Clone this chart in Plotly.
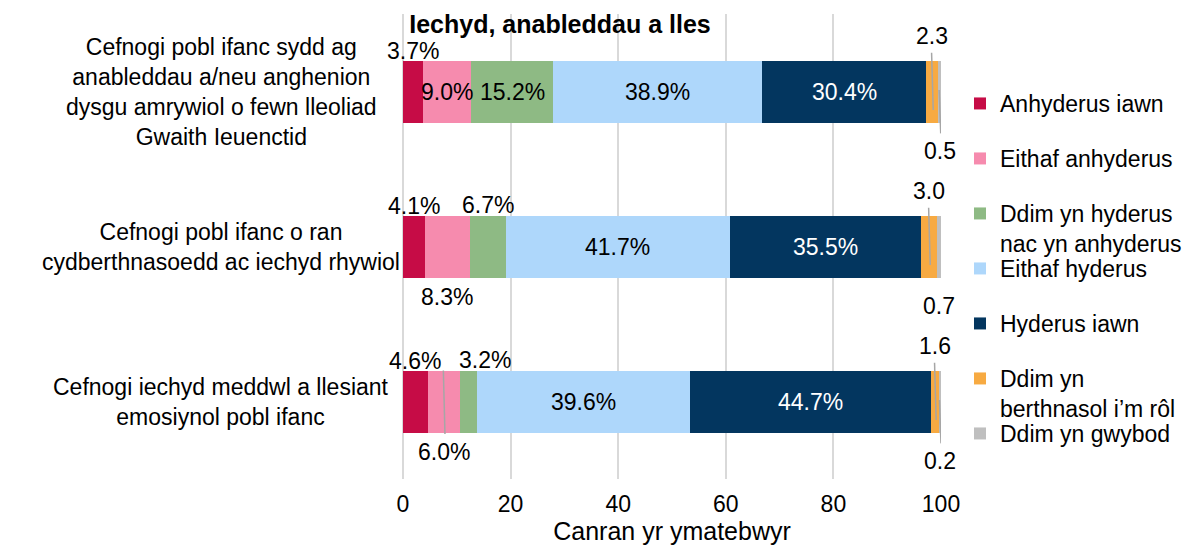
import plotly.graph_objects as go

# ---------------- data ----------------
categories = [
    "Cefnogi pobl ifanc sydd ag<br>anableddau a/neu anghenion<br>dysgu amrywiol o fewn lleoliad<br>Gwaith Ieuenctid",
    "Cefnogi pobl ifanc o ran<br>cydberthnasoedd ac iechyd rhywiol",
    "Cefnogi iechyd meddwl a llesiant<br>emosiynol pobl ifanc",
]
series_names = [
    "Anhyderus iawn",
    "Eithaf anhyderus",
    "Ddim yn hyderus<br>nac yn anhyderus",
    "Eithaf hyderus",
    "Hyderus iawn",
    "Ddim yn<br>berthnasol i’m rôl",
    "Ddim yn gwybod",
]
anhyderus_iawn = [3.7, 4.1, 4.6]
eithaf_anhyderus = [9.0, 8.3, 6.0]
ddim_hyderus_nac_anhyderus = [15.2, 6.7, 3.2]
eithaf_hyderus = [38.9, 41.7, 39.6]
hyderus_iawn = [30.4, 35.5, 44.7]
ddim_yn_berthnasol = [2.3, 3.0, 1.6]
ddim_yn_gwybod = [0.5, 0.7, 0.2]
x_ticks = [0, 20, 40, 60, 80, 100]

series_values = [anhyderus_iawn, eithaf_anhyderus, ddim_hyderus_nac_anhyderus,
                 eithaf_hyderus, hyderus_iawn, ddim_yn_berthnasol, ddim_yn_gwybod]

# ---------------- style ----------------
W, H = 1184, 542          # page body has an 8px margin in the 1192x550 window
OFF = 8
colors = ["#C60C46", "#F68BAE", "#8EBA84", "#AED7FB", "#03365F", "#F7AA42", "#BFBFBF"]
FONT = "Liberation Sans, Arial, sans-serif"
FS = 23
placement = [
    ["above", "above", "above"],
    ["inside", "below", "below"],
    ["inside", "above", "above"],
    ["inside", "inside", "inside"],
    ["inside", "inside", "inside"],
    ["above", "above", "above"],
    ["below", "below", "below"],
]
# pixel offsets of outside labels (positive = up)
yshift_map = {0: 41, 1: -50, 2: 42, 5: 56, 6: -59}
xshift_over = {(2, 2): 16}
pct_series = [True, True, True, True, True, False, False]
text_colors = ["black", "black", "black", "black", "white", "black", "black"]
leaders = [(5, 0), (6, 0), (5, 1), (5, 2), (6, 2), (1, 2)]

fig = go.Figure()
for i, (name, vals) in enumerate(zip(series_names, series_values)):
    fig.add_trace(go.Bar(
        x=vals, y=categories, orientation="h", name=name,
        marker=dict(color=colors[i], line=dict(width=0)),
        width=0.4,
        legend="legend" if i == 0 else f"legend{i+1}",
    ))

annotations = []
shapes = []
cum = [0.0] * len(categories)
for i, vals in enumerate(series_values):
    for r, v in enumerate(vals):
        mid = cum[r] + v / 2
        txt = f"{v:.1f}%" if pct_series[i] else f"{v:.1f}"
        pos = placement[i][r]
        ys = 0 if pos == "inside" else yshift_map[i]
        annotations.append(dict(
            x=mid, y=categories[r], xref="x", yref="y", text=txt, showarrow=False,
            xanchor="center", yanchor="middle", yshift=ys,
            xshift=xshift_over.get((i, r), 0),
            font=dict(family=FONT, size=FS, color=text_colors[i] if pos == "inside" else "black"),
        ))
        if (i, r) in leaders:
            if i == 1:
                y0, y1 = r - 0.2, r + 0.21
            elif pos == "above":
                y0, y1 = r - 0.25, r + 0.12
            else:
                y0, y1 = r - 0.01, r + 0.27
            shapes.append(dict(type="line", xref="x", yref="y", x0=mid - 0.1, x1=mid + 0.2,
                               y0=y0, y1=y1, line=dict(color="#A6A6A6", width=1.5)))
        cum[r] += v

# category labels (centered multi-line)
for c in categories:
    annotations.append(dict(
        x=-0.338, xref="paper", y=c, yref="y", text=c, showarrow=False,
        xanchor="center", yanchor="middle", align="center",
        font=dict(family=FONT, size=FS, color="black"),
    ))

layout_legends = {}
for i in range(len(series_names)):
    key = "legend" if i == 0 else f"legend{i+1}"
    sym_y = 103 + 55 * i
    layout_legends[key] = dict(
        xref="container", yref="container",
        x=(960 - OFF) / W, xanchor="left", y=1 - (sym_y - 21 - OFF) / H, yanchor="top",
        font=dict(family=FONT, size=FS, color="black"), bgcolor="rgba(0,0,0,0)",
        borderwidth=0, valign="top",
    )

fig.update_layout(
    width=W, height=H,
    margin=dict(l=403 - OFF, r=W - (941 - OFF), t=14 - OFF, b=H - (479 - OFF), autoexpand=False),
    barmode="stack",
    paper_bgcolor="white", plot_bgcolor="white",
    font=dict(family=FONT, size=FS, color="black"),
    title=dict(text="<b>Iechyd, anableddau a lles</b>", x=(560 - OFF) / W, xanchor="center",
               y=1 - (24 - OFF) / H, yanchor="middle", font=dict(family=FONT, size=25, color="black")),
    xaxis=dict(range=[0, 100], tickvals=x_ticks, showgrid=True, gridcolor="#D9D9D9", gridwidth=2,
               zeroline=True, zerolinecolor="#D9D9D9", zerolinewidth=2, showline=False,
               ticks="outside", ticklen=4, tickcolor="rgba(0,0,0,0)", automargin=False,
               tickfont=dict(family=FONT, size=FS, color="black"),
               title=dict(text="Canran yr ymatebwyr", font=dict(family=FONT, size=25, color="black"), standoff=5)),
    yaxis=dict(categoryorder="array", categoryarray=categories, range=[2.5, -0.5], automargin=False,
               showticklabels=False, showgrid=False, zeroline=False, showline=False),
    annotations=annotations,
    shapes=shapes,
    showlegend=True,
    **layout_legends,
)

fig.write_html("out.html")
